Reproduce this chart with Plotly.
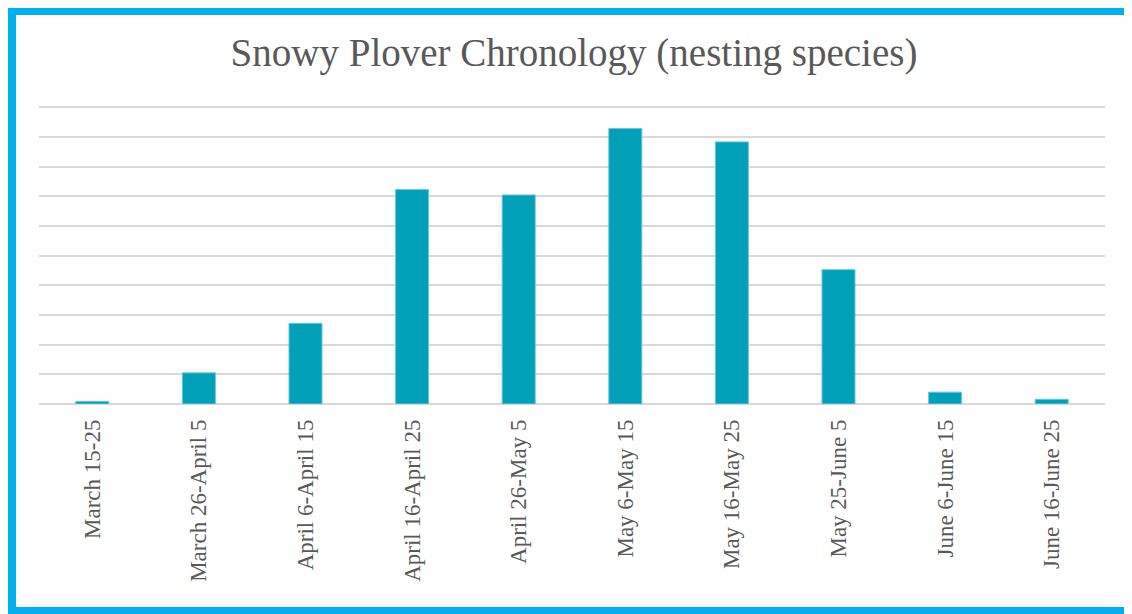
import plotly.graph_objects as go

# data (one gridline = 10)
periodos = [
    "March 15-25", "March 26-April 5", "April 6-April 15", "April 16-April 25",
    "April 26-May 5", "May 6-May 15", "May 16-May 25", "May 25-June 5",
    "June 6-June 15", "June 16-June 25",
]
ninhos = [0.9, 10.5, 27.2, 72.3, 70.5, 92.9, 88.4, 45.3, 4.0, 1.6]

W, H = 1132, 614
ml, mr, mt, mb = 31, 35, 94, 218
pw = W - ml - mr
ph = H - mt - mb

fig = go.Figure(go.Bar(
    x=periodos,
    y=ninhos,
    marker_color="#00A0B8",
    marker_line=dict(color="#6cc8d6", width=1),
    width=0.31,
))

# borda azul em volta da figura (pixels convertidos p/ paper)
def px_x(v):
    return (v - ml) / pw

def px_y(v):
    return (H - mb - v) / ph

fig.add_shape(
    type="rect", xref="paper", yref="paper",
    x0=px_x(2), x1=px_x(1125), y0=px_y(605), y1=px_y(1),
    line=dict(color="#00B0F0", width=12),
    fillcolor="rgba(0,0,0,0)", layer="above",
)

fig.update_layout(
    width=W, height=H,
    margin=dict(l=ml, r=mr, t=mt, b=mb),
    paper_bgcolor="white", plot_bgcolor="white",
    showlegend=False,
    title=dict(
        text="Snowy Plover Chronology (nesting species)",
        x=0.5, xanchor="center", xref="container",
        y=1 - 44 / H, yanchor="middle", yref="container",
        font=dict(family="Liberation Serif", size=39, color="#595959"),
    ),
    font=dict(family="Liberation Serif", color="#595959"),
)

fig.update_xaxes(
    tickangle=-90, tickfont=dict(size=23, color="#595959"),
    showgrid=False, showline=False, ticks="", ticklabelstandoff=10,
)
fig.update_yaxes(
    range=[0, 101.85], dtick=10, showticklabels=False,
    showgrid=True, gridcolor="#d9d9d9", gridwidth=1.5,
    zeroline=True, zerolinecolor="#d9d9d9", zerolinewidth=1.5,
    showline=False, ticks="",
)

fig.write_html("out.html")
